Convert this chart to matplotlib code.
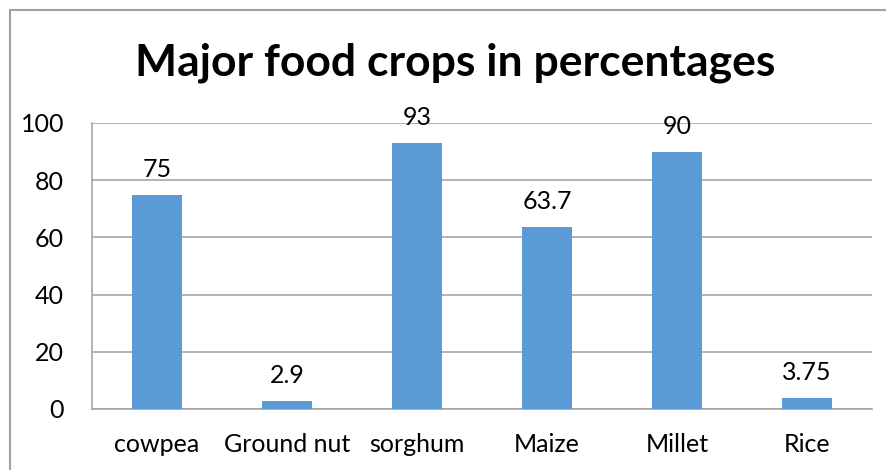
import matplotlib
matplotlib.use("Agg")
import matplotlib.pyplot as plt
from matplotlib.lines import Line2D

crops = ["cowpea", "Ground nut", "sorghum", "Maize", "Millet", "Rice"]
percent = [75, 2.9, 93, 63.7, 90, 3.75]
labels = ["75", "2.9", "93", "63.7", "90", "3.75"]

BAR = "#5B9BD5"
GRID = "#A6A6A6"
W, H = 887, 470

plt.rcParams["font.family"] = ["Lato", "DejaVu Sans"]

fig = plt.figure(figsize=(W / 100, H / 100), dpi=100)
ax = fig.add_axes([92 / W, 1 - 409 / H, 780 / W, (409 - 123) / H])

x = range(len(crops))
ax.bar(x, percent, width=0.39, color=BAR, zorder=3)
for i, (v, t) in enumerate(zip(percent, labels)):
    ax.annotate(t, (i, v), xytext=(0, 10), textcoords="offset points",
                ha="center", va="bottom", fontsize=18, color="#000000")

ax.set_xlim(-0.5, len(crops) - 0.5)
ax.set_ylim(0, 100)
ax.set_yticks(range(0, 101, 20))
ax.set_xticks(list(x))
ax.set_xticklabels(crops)
ax.yaxis.grid(True, color=GRID, lw=1.2, zorder=0)
ax.tick_params(axis="both", length=0, labelsize=18, colors="#000000")
ax.tick_params(axis="y", pad=20)
ax.tick_params(axis="x", pad=17)
for s in ["top", "right"]:
    ax.spines[s].set_visible(False)
for s in ["left", "bottom"]:
    ax.spines[s].set_color(GRID)
    ax.spines[s].set_linewidth(1.2)

fig.text(455 / W, 1 - 63 / H, "Major food crops in percentages", ha="center", va="center",
         fontsize=32, fontweight="bold")

# outer chart border (runs off the right and bottom edges)
fig.add_artist(Line2D([10 / W, 10 / W], [0, 1 - 10 / H], transform=fig.transFigure,
                      color="#A0A0A0", lw=1.5))
fig.add_artist(Line2D([10 / W, 1], [1 - 10 / H, 1 - 10 / H], transform=fig.transFigure,
                      color="#A0A0A0", lw=1.5))

fig.savefig("out.png", dpi=100)
